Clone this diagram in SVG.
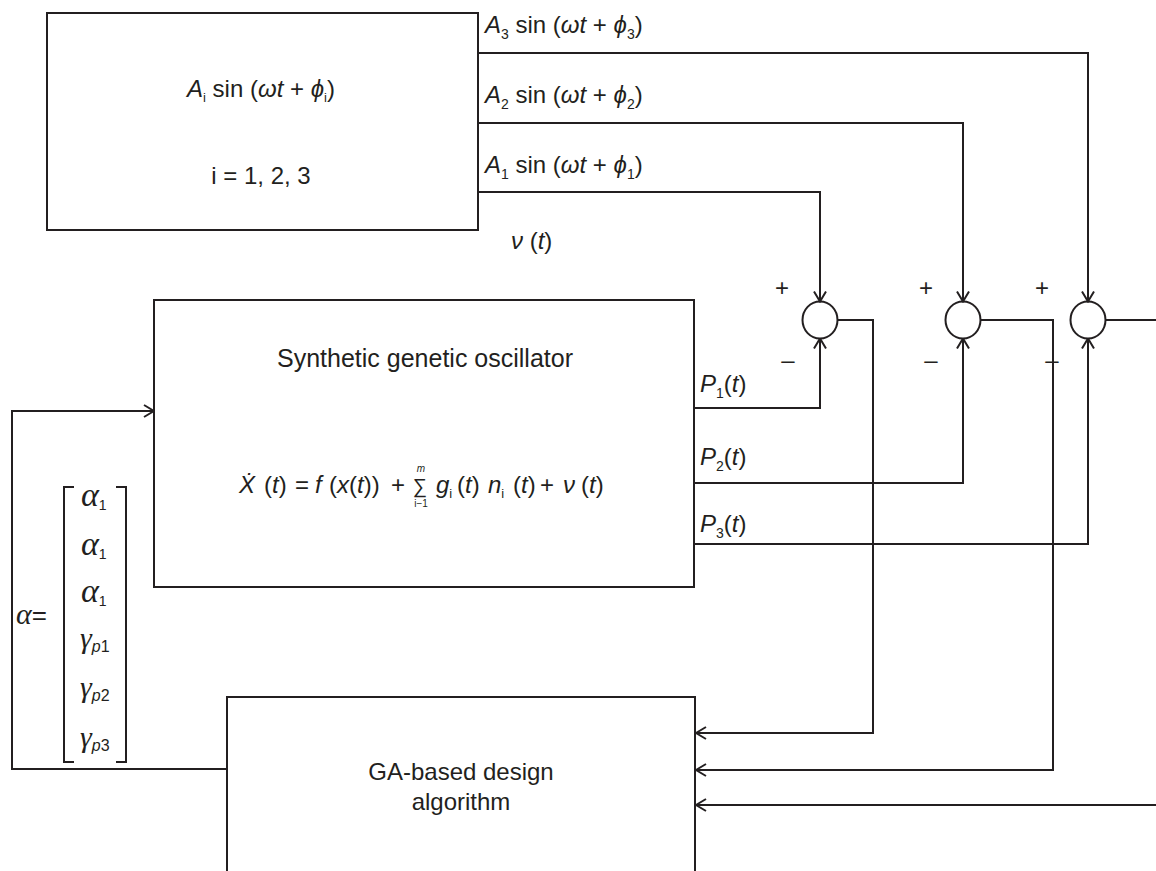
<svg xmlns="http://www.w3.org/2000/svg" width="1156" height="871" viewBox="0 0 1156 871">
<style>
.box{fill:none;stroke:#231f20;stroke-width:2}
.ln{fill:none;stroke:#231f20;stroke-width:2}
text{font-family:"Liberation Sans","DejaVu Sans",Arial,sans-serif;fill:#231f20}
.t{font-size:24px}
.it{font-style:italic}
.gr{font-family:"Liberation Serif","Times New Roman",serif;font-style:italic}
.sg{font-size:24px}
.sb{font-family:"Liberation Sans",Arial,sans-serif;font-style:normal}
</style>
<defs>
<marker id="ar" viewBox="0 0 12 14" refX="11" refY="7" markerWidth="12" markerHeight="14" markerUnits="userSpaceOnUse" orient="auto">
<path d="M1,1 L11,7 L1,13" fill="none" stroke="#231f20" stroke-width="2"/>
</marker>
</defs>
<rect width="1156" height="871" fill="#ffffff"/>

<g id="connectors">
<path class="ln" d="M478,53 H1088 V301.5" marker-end="url(#ar)"/>
<path class="ln" d="M478,123 H963 V301.5" marker-end="url(#ar)"/>
<path class="ln" d="M478,192 H820 V301.5" marker-end="url(#ar)"/>
<path class="ln" d="M694,408 H820 V338.5" marker-end="url(#ar)"/>
<path class="ln" d="M694,483 H963 V338.5" marker-end="url(#ar)"/>
<path class="ln" d="M694,544 H1088 V338.5" marker-end="url(#ar)"/>
<path class="ln" d="M838,320 H873 V733 H696" marker-end="url(#ar)"/>
<path class="ln" d="M981,320 H1053 V770 H696" marker-end="url(#ar)"/>
<path class="ln" d="M1106,320 H1156"/>
<path class="ln" d="M1156,805 H696" marker-end="url(#ar)"/>
<path class="ln" d="M227,769 H12 V411 H154" marker-end="url(#ar)"/>
</g>

<g id="signal-source">
<rect class="box" x="47" y="13" width="431" height="217"/>
<text class="t" x="261" y="97" text-anchor="middle"><tspan class="it">A</tspan><tspan font-size="13" dy="5">i</tspan><tspan dy="-5"> sin (</tspan><tspan class="it">ωt</tspan> + <tspan class="it">ϕ</tspan><tspan font-size="13" dy="5">i</tspan><tspan dy="-5">)</tspan></text>
<text class="t" x="261" y="184" text-anchor="middle">i = 1, 2, 3</text>
</g>

<g id="labels-A">
<text class="t" x="485" y="33"><tspan class="it">A</tspan><tspan font-size="14" dy="6">3</tspan><tspan dy="-6"> sin (</tspan><tspan class="it">ωt</tspan> + <tspan class="it">ϕ</tspan><tspan font-size="14" dy="6">3</tspan><tspan dy="-6">)</tspan></text>
<text class="t" x="485" y="103"><tspan class="it">A</tspan><tspan font-size="14" dy="6">2</tspan><tspan dy="-6"> sin (</tspan><tspan class="it">ωt</tspan> + <tspan class="it">ϕ</tspan><tspan font-size="14" dy="6">2</tspan><tspan dy="-6">)</tspan></text>
<text class="t" x="485" y="173"><tspan class="it">A</tspan><tspan font-size="14" dy="6">1</tspan><tspan dy="-6"> sin (</tspan><tspan class="it">ωt</tspan> + <tspan class="it">ϕ</tspan><tspan font-size="14" dy="6">1</tspan><tspan dy="-6">)</tspan></text>
<text class="t" x="511" y="249"><tspan class="it">ν</tspan> (<tspan class="it">t</tspan>)</text>
</g>

<g id="oscillator">
<rect class="box" x="154" y="300" width="540" height="287"/>
<text x="425" y="367" text-anchor="middle" font-size="25">Synthetic genetic oscillator</text>
<text class="t" y="493"><tspan x="239" class="it">Ẋ</tspan><tspan x="264">(</tspan><tspan class="it">t</tspan>)<tspan x="295">=</tspan><tspan x="315" class="it">f</tspan><tspan x="329">(</tspan><tspan class="it">x</tspan>(<tspan class="it">t</tspan>))<tspan x="391">+</tspan><tspan x="436" class="it">g</tspan><tspan font-size="13" dy="5">i</tspan><tspan x="457" dy="-5">(</tspan><tspan class="it">t</tspan>)<tspan x="488" class="it">n</tspan><tspan font-size="13" dy="5">i</tspan><tspan x="513" dy="-5">(</tspan><tspan class="it">t</tspan>)<tspan x="540">+</tspan><tspan x="563" class="it">ν</tspan><tspan x="581">(</tspan><tspan class="it">t</tspan>)</text>
<text x="420" y="493" font-size="20" text-anchor="middle">∑</text>
<text x="421" y="472" font-size="10" text-anchor="middle" class="it">m</text>
<text x="421" y="507" font-size="10" text-anchor="middle">i−1</text>
</g>

<g id="P-labels">
<text class="t" x="700" y="392"><tspan class="it">P</tspan><tspan font-size="14" dy="6">1</tspan><tspan dy="-6">(</tspan><tspan class="it">t</tspan>)</text>
<text class="t" x="700" y="465"><tspan class="it">P</tspan><tspan font-size="14" dy="6">2</tspan><tspan dy="-6">(</tspan><tspan class="it">t</tspan>)</text>
<text class="t" x="700" y="532"><tspan class="it">P</tspan><tspan font-size="14" dy="6">3</tspan><tspan dy="-6">(</tspan><tspan class="it">t</tspan>)</text>
</g>

<g id="sum1">
<ellipse class="box" cx="820" cy="320" rx="17.5" ry="18.5"/>
<text class="sg" x="782" y="296" text-anchor="middle">+</text>
<text class="sg" x="788" y="368" text-anchor="middle">–</text>
</g>
<g id="sum2">
<ellipse class="box" cx="963" cy="320" rx="17.5" ry="18.5"/>
<text class="sg" x="926" y="296" text-anchor="middle">+</text>
<text class="sg" x="931" y="368" text-anchor="middle">–</text>
</g>
<g id="sum3">
<ellipse class="box" cx="1088" cy="320" rx="17.5" ry="18.5"/>
<text class="sg" x="1042" y="296" text-anchor="middle">+</text>
<text class="sg" x="1052" y="368" text-anchor="middle">–</text>
</g>

<g id="parameter-vector">
<text x="16" y="624" font-size="30"><tspan class="gr">α</tspan><tspan font-size="26">=</tspan></text>
<path class="ln" d="M74,487 H64 V762 H74"/>
<path class="ln" d="M116,487 H126 V762 H116"/>
<text x="81" y="506" font-size="34" class="gr">α<tspan class="sb" font-size="14" dy="4">1</tspan></text>
<text x="81" y="555" font-size="34" class="gr">α<tspan class="sb" font-size="14" dy="4">1</tspan></text>
<text x="81" y="602" font-size="34" class="gr">α<tspan class="sb" font-size="14" dy="4">1</tspan></text>
<text x="80" y="648" font-size="30" class="gr">γ<tspan font-size="16" font-family="Liberation Sans" dy="4">p</tspan><tspan class="sb" font-size="16">1</tspan></text>
<text x="80" y="697" font-size="30" class="gr">γ<tspan font-size="16" font-family="Liberation Sans" dy="4">p</tspan><tspan class="sb" font-size="16">2</tspan></text>
<text x="80" y="747" font-size="30" class="gr">γ<tspan font-size="16" font-family="Liberation Sans" dy="4">p</tspan><tspan class="sb" font-size="16">3</tspan></text>
</g>

<g id="ga-design">
<rect class="box" x="227" y="697" width="468" height="200"/>
<text class="t" x="461" y="780" text-anchor="middle">GA-based design</text>
<text class="t" x="461" y="810" text-anchor="middle">algorithm</text>
</g>
</svg>
